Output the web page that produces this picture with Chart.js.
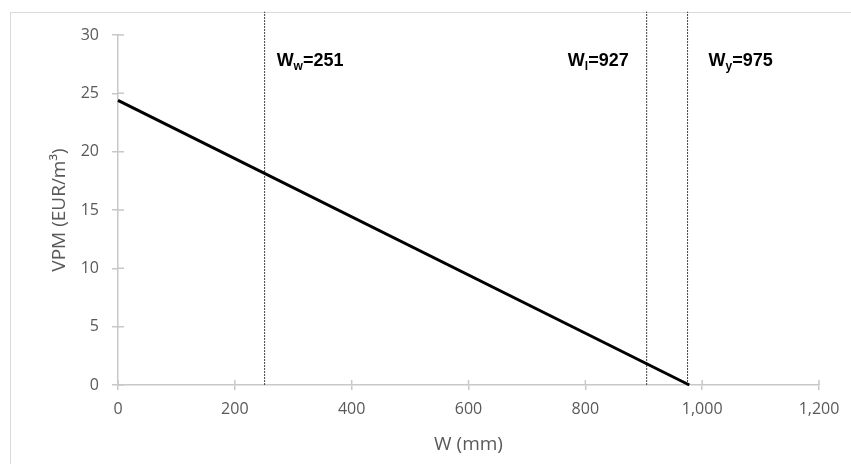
<!DOCTYPE html>
<html>
<head>
<meta charset="utf-8">
<script src="https://cdn.jsdelivr.net/npm/chart.js@4/dist/chart.umd.min.js"></script>
<style>
  body { margin: 0; background: #fff; }
  #frame { position: absolute; left: 10px; top: 12px; width: 841px; height: 452px;
           border-left: 1px solid #d9d9d9; border-top: 1px solid #d9d9d9; }
  #wrap { position: absolute; left: 0; top: 0; width: 851px; height: 464px; }
</style>
</head>
<body>
<div id="frame"></div>
<div id="wrap"><canvas id="myChart"></canvas></div>
<script>
// line VPM vs W
const lineW = [0, 978];
const lineVPM = [24.4, 0];

// vertical reference lines
const markerW = [251, 905, 975];
const markerSub = ['w', 'l', 'y'];
const markerValue = ['251', '927', '975'];
const markerSpan = [0, 32];

const xTicks = [0, 200, 400, 600, 800, 1000, 1200];
const yTicks = [0, 5, 10, 15, 20, 25, 30];

const grey = '#595959';
const axisGrey = '#c8c8c8';

const datasets = [{
  label: 'VPM',
  data: lineW.map((w, i) => ({ x: w, y: lineVPM[i] })),
  showLine: true,
  borderColor: '#000',
  borderWidth: 3,
  pointRadius: 0,
  clip: false
}];
markerW.forEach((w, i) => {
  datasets.push({
    label: 'W' + markerSub[i],
    data: markerSpan.map(v => ({ x: w, y: v })),
    showLine: true,
    borderColor: '#404040',
    borderWidth: 1,
    borderDash: [2, 1],
    pointRadius: 0,
    clip: false
  });
});

// text beside each vertical line: offset in px, and side
const labelPlacement = [{ dx: 12, side: 'right' }, { dx: -18, side: 'left' }, { dx: 21, side: 'right' }];

// Excel-style ticks that cross the axis: draw the inner half
const innerTicks = {
  id: 'innerTicks',
  beforeDatasetsDraw(chart) {
    const c = chart.ctx;
    const { x, y } = chart.scales;
    c.save();
    c.strokeStyle = axisGrey;
    c.lineWidth = 1.5;
    c.beginPath();
    xTicks.forEach(v => {
      const px = x.getPixelForValue(v);
      c.moveTo(px, y.bottom);
      c.lineTo(px, y.bottom - 5);
    });
    yTicks.forEach(v => {
      const py = y.getPixelForValue(v);
      c.moveTo(x.left, py);
      c.lineTo(x.left + 6, py);
    });
    c.stroke();
    c.restore();
  }
};

const markerLabels = {
  id: 'markerLabels',
  afterDatasetsDraw(chart) {
    const c = chart.ctx;
    const xs = chart.scales.x;
    const y = 66;
    markerW.forEach((w, i) => {
      const main = 'bold 18px "Liberation Sans", Arial, sans-serif';
      const sub = 'bold 12px "Liberation Sans", Arial, sans-serif';
      const rest = '=' + markerValue[i];
      c.save();
      c.fillStyle = '#000';
      c.textBaseline = 'alphabetic';
      c.font = main;
      const wW = c.measureText('W').width;
      const wRest = c.measureText(rest).width;
      c.font = sub;
      const wSub = c.measureText(markerSub[i]).width;
      const total = wW + wSub + wRest;
      const lx = xs.getPixelForValue(w) + labelPlacement[i].dx;
      let x = labelPlacement[i].side === 'right' ? lx : lx - total;
      c.font = main;
      c.fillText('W', x, y);
      x += wW;
      c.font = sub;
      c.fillText(markerSub[i], x, y + 4);
      x += wSub;
      c.font = main;
      c.fillText(rest, x, y);
      c.restore();
    });
  }
};

const ctx = document.getElementById('myChart');
new Chart(ctx, {
  type: 'scatter',
  data: { datasets: datasets },
  plugins: [innerTicks, markerLabels],
  options: {
    responsive: true,
    maintainAspectRatio: false,
    animation: false,
    layout: { padding: { left: 40, right: 32, top: 35, bottom: 0 } },
    plugins: { legend: { display: false }, tooltip: { enabled: false } },
    scales: {
      x: {
        type: 'linear',
        min: 0, max: 1200,
        afterBuildTicks: s => { s.ticks = xTicks.map(v => ({ value: v })); },
        afterFit: s => { s.height = 79; },
        border: { color: axisGrey, width: 1.5 },
        grid: { drawOnChartArea: false, color: axisGrey, tickLength: 5, lineWidth: 1.5 },
        ticks: {
          color: grey, padding: 10,
          font: { family: '"Open Sans", sans-serif', size: 16 },
          callback: v => v.toLocaleString('en-US')
        },
        title: {
          display: true, text: 'W (mm)', color: grey,
          font: { family: '"Open Sans", sans-serif', size: 19 },
          padding: { top: 0, bottom: 8 }
        }
      },
      y: {
        min: 0, max: 30,
        afterBuildTicks: s => { s.ticks = yTicks.map(v => ({ value: v })); },
        afterFit: s => { s.width = 78; },
        border: { color: axisGrey, width: 1.5 },
        grid: { drawOnChartArea: false, color: axisGrey, tickLength: 6, lineWidth: 1.5 },
        ticks: {
          color: grey, padding: 13,
          font: { family: '"Open Sans", sans-serif', size: 16 }
        },
        title: {
          display: true, text: 'VPM (EUR/m³)', color: grey,
          font: { family: '"Open Sans", sans-serif', size: 19 },
          padding: { top: 8, bottom: 0 }
        }
      }
    }
  }
});
</script>
</body>
</html>
